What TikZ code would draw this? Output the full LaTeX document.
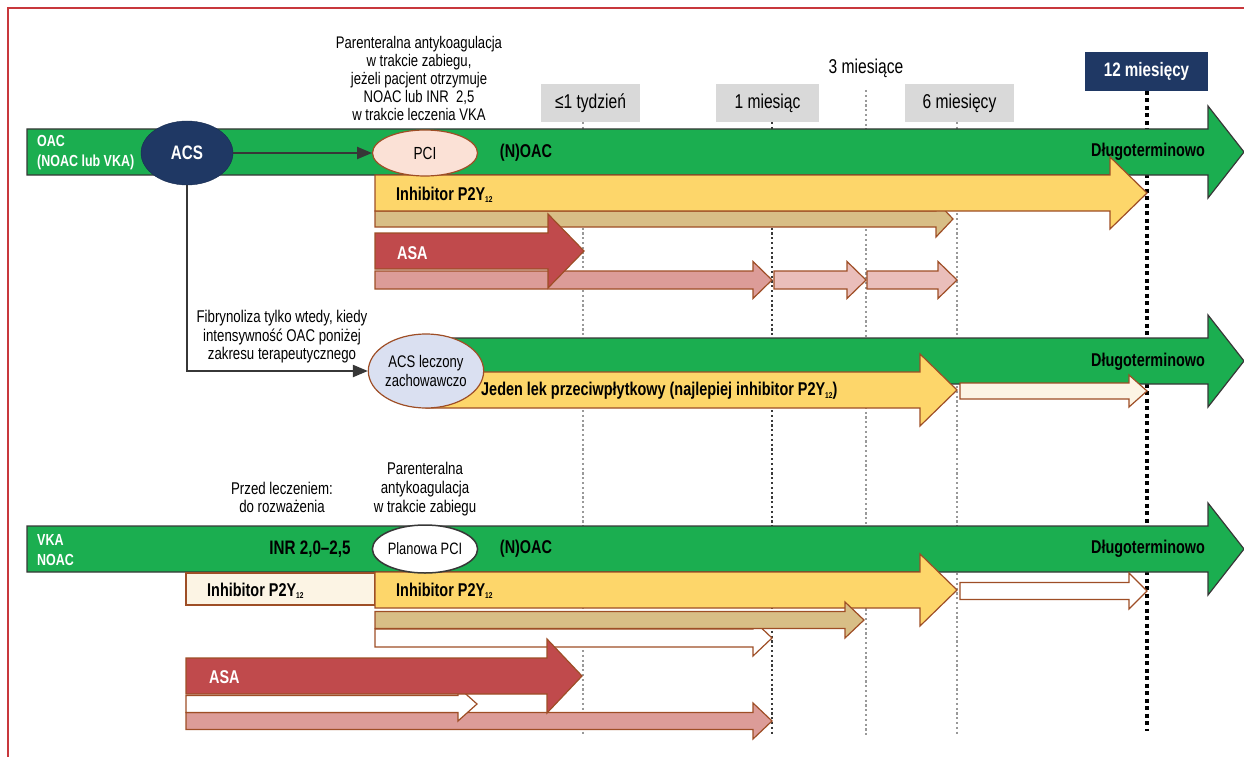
\documentclass[tikz,border=0pt]{standalone}
\usepackage{fontspec}
\setmainfont[FakeStretch=0.78]{Liberation Sans}
\usetikzlibrary{arrows}
\usetikzlibrary{shapes.geometric}
\definecolor{zielony}{RGB}{27,174,80}
\definecolor{granat}{RGB}{31,56,100}
\definecolor{zolty}{RGB}{253,214,106}
\definecolor{czerwony}{RGB}{192,74,76}
\definecolor{rozowy}{RGB}{220,156,152}
\definecolor{rozjasny}{RGB}{234,190,186}
\definecolor{bezowy}{RGB}{216,190,134}
\definecolor{kremowy}{RGB}{252,244,228}
\definecolor{brazowy}{RGB}{158,78,38}
\definecolor{ciemny}{RGB}{55,55,55}
\definecolor{szary}{RGB}{217,217,217}
\definecolor{ramka}{RGB}{200,56,60}
\definecolor{lawenda}{RGB}{218,224,241}
\definecolor{brzoskwinia}{RGB}{251,225,214}
% strzalka: styl, x poczatku, x grotu, y srodka, pol trzonu, pol grotu, dlugosc grotu
\newcommand{\strzalka}[7]{\draw[#1] (#2,#4-#5) -- (#3-#7,#4-#5) -- (#3-#7,#4-#6) -- (#3,#4) -- (#3-#7,#4+#6) -- (#3-#7,#4+#5) -- (#2,#4+#5) -- cycle;}
\newcommand{\pdwa}{P2Y\raisebox{-2.5pt}{\fontsize{8.5}{9}\selectfont 12}}

\begin{document}
\begin{tikzpicture}[x=1pt,y=-1pt,>=triangle 45,
  tekst/.style={font=\fontsize{17}{18.6}\selectfont,align=center,inner sep=0pt},
  gruby/.style={font=\fontsize{18.5}{20}\selectfont\bfseries,inner sep=0pt},
  bialy/.style={font=\fontsize{16}{20}\selectfont\bfseries,text=white,align=left,inner sep=0pt},
  okienko/.style={fill=szary,minimum height=38pt,inner sep=0pt,font=\fontsize{20}{22}\selectfont},
  siatka/.style={draw=gray!80,line width=2.2pt,dash pattern=on 2.2pt off 2.6pt},
  pas/.style={fill=zielony,draw=ciemny,line width=1.2pt},
  obrys/.style={draw=brazowy,line width=1.2pt},
  laczenie/.style={draw=ciemny,line width=2.5pt,->}]
\useasboundingbox (0,0) rectangle (1244,757);
\draw[draw=ramka,line width=1.5pt] (1244,8) -- (8,8) -- (8,757);

% os czasu
\draw[siatka] (583,122) -- (583,736);
\draw[siatka,draw=gray!45!black] (772,122) -- (772,736);
\draw[siatka] (866,90) -- (866,736);
\draw[siatka] (957,122) -- (957,736);
\draw[line width=4pt,dash pattern=on 4pt off 3.5pt] (1147,91) -- (1147,731);
\node[okienko,minimum width=99pt] (tydzien) at (590.5,103) {≤1 tydzień};
\node[okienko,minimum width=103pt] (miesiac) at (767.5,103) {1 miesiąc};
\node[tekst,font=\fontsize{20}{22}\selectfont] (trzy) at (866,68) {3 miesiące};
\node[okienko,minimum width=109pt] (szesc) at (959.5,103) {6 miesięcy};
\node[okienko,fill=granat,text=white,minimum width=123pt,minimum height=39pt,font=\fontsize{19.5}{22}\selectfont\bfseries] (rok) at (1146.5,71.5) {12 miesięcy};

% OAC
\strzalka{pas}{27}{1244}{152}{23}{46}{36}
\strzalka{obrys,fill=bezowy}{375}{953}{219}{8}{18}{17}
\strzalka{obrys,fill=zolty}{375}{1147}{193}{18}{36}{37}
\strzalka{obrys,fill=rozowy}{375}{772}{280}{9}{18.5}{19}
\strzalka{obrys,fill=rozjasny}{774}{866}{280}{9}{18.5}{19}
\strzalka{obrys,fill=rozjasny}{867}{957}{280}{9}{18.5}{19}
\strzalka{obrys,fill=czerwony}{375}{584}{251}{18}{37}{36}
\node[bialy,anchor=west] (oac) at (37,153) {OAC\\(NOAC lub VKA)};
\node[ellipse,fill=granat,draw=granat!80!black,minimum width=92pt,minimum height=64pt,inner sep=0pt,text=white,font=\fontsize{19.5}{20}\selectfont\bfseries] (acs) at (187,153) {ACS};
\node[ellipse,fill=brzoskwinia,obrys,minimum width=105pt,minimum height=46pt,inner sep=0pt,font=\fontsize{17.5}{20}\selectfont] (pci) at (425,153) {PCI};
\draw[laczenie] (acs) -- (pci);
\node[gruby] (noac) at (526,153) {(N)OAC};
\node[gruby] (dlugo) at (1148,152) {Długoterminowo};
\node[gruby,anchor=west] (inh) at (396,195) {Inhibitor \pdwa};
\node[bialy,font=\fontsize{18.5}{20}\selectfont\bfseries,anchor=west] (asa) at (397,253) {ASA};
\node[tekst,font=\fontsize{16.8}{17.8}\selectfont] (par) at (419,78.5) {Parenteralna antykoagulacja\\w trakcie zabiegu,\\jeżeli pacjent otrzymuje\\NOAC lub INR \ 2,5\\w trakcie leczenia VKA};

% leczenie zachowawcze
\strzalka{pas}{430}{1244}{361}{23}{46}{36}
\strzalka{obrys,fill=zolty}{426}{957}{390}{18}{36}{37}
\strzalka{obrys,fill=kremowy}{960}{1147}{391}{8}{16}{18}
\node[ellipse,fill=lawenda,obrys,minimum width=105pt,minimum height=74pt,inner sep=0pt,align=center,font=\fontsize{16.8}{18.5}\selectfont] (acsz) at (426,371) {ACS leczony\\zachowawczo};
\draw[laczenie] (acs.south) |- (acsz.west);
\node[tekst] (fibr) at (282,337) {Fibrynoliza tylko wtedy, kiedy\\intensywność OAC poniżej\\zakresu terapeutycznego};
\node[gruby,anchor=west] (jeden) at (481,391) {Jeden lek przeciwpłytkowy (najlepiej inhibitor \pdwa)};
\node[gruby] (dlugo2) at (1148,362) {Długoterminowo};

% VKA / NOAC
\strzalka{pas}{27}{1244}{549}{23}{46}{36}
\draw[obrys,fill=kremowy] (186,573) rectangle (375,605);
\strzalka{obrys,fill=zolty}{375}{957}{590}{18}{36}{37}
\strzalka{obrys,fill=white}{960}{1147}{591}{8.5}{18}{18}
\strzalka{obrys,fill=white}{375}{772}{638}{9}{18}{19}
\strzalka{obrys,fill=bezowy}{375}{864}{620}{8.5}{18}{19}
\strzalka{obrys,fill=rozowy}{186}{772}{721}{8.5}{18}{19}
\strzalka{obrys,fill=white}{186}{477}{704}{8.5}{17}{19}
\strzalka{obrys,fill=czerwony}{186}{582}{676}{18}{37}{35}
\node[bialy,anchor=west] (vka) at (37,550) {VKA\\NOAC};
\node[gruby,font=\fontsize{19.5}{20}\selectfont\bfseries] (inr) at (310,549) {INR 2,0–2,5};
\node[ellipse,fill=white,draw=ciemny,line width=1.5pt,minimum width=105pt,minimum height=48pt,inner sep=0pt,font=\fontsize{16.5}{18}\selectfont] (ppci) at (425,549) {Planowa PCI};
\node[gruby] (noac2) at (526,549) {(N)OAC};
\node[gruby] (dlugo3) at (1148,549) {Długoterminowo};
\node[tekst] (przed) at (282,497.5) {Przed leczeniem:\\do rozważenia};
\node[tekst] (par2) at (425,489) {Parenteralna\\antykoagulacja\\w trakcie zabiegu};
\node[gruby,anchor=west] (inh2) at (207,591) {Inhibitor \pdwa};
\node[gruby,anchor=west] (inh3) at (396,591) {Inhibitor \pdwa};
\node[bialy,font=\fontsize{18.5}{20}\selectfont\bfseries,anchor=west] (asa2) at (209,677) {ASA};
\end{tikzpicture}
\end{document}
